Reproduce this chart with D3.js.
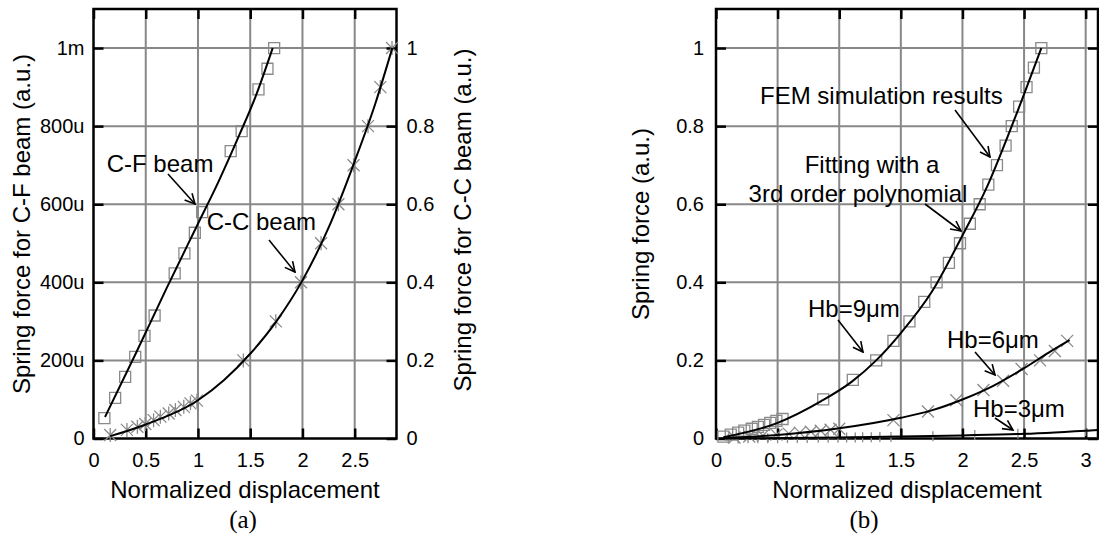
<!DOCTYPE html>
<html>
<head>
<meta charset="utf-8">
<script src="https://cdn.jsdelivr.net/npm/d3@7"></script>
<style>
  body { margin: 0; background: #fff; }
  svg text { font-family: "Liberation Sans", Arial, sans-serif; fill: #000; }
</style>
</head>
<body>
<div id="chart"></div>
<script>
// ---- panel (a) data : C-F beam (left axis, u units) ----
const cfX = [0.104, 0.207, 0.303, 0.399, 0.488, 0.585, 0.777, 0.87, 0.97, 1.04, 1.313, 1.418, 1.579, 1.665, 1.729];
const cfY = [52, 104, 158, 209, 263, 315, 423, 474, 527, 580, 736, 787, 894, 947, 1000];
const cfFitX = [0.11, 0.4, 0.7, 1.0, 1.2, 1.4, 1.55, 1.715];
const cfFitY = [55, 215, 385, 550, 660, 780, 875, 1000];

// C-C beam (right axis)
const ccX = [0.16, 0.32, 0.42, 0.495, 0.575, 0.64, 0.72, 0.784, 0.864, 0.928, 0.99, 1.434, 1.745, 1.986, 2.178, 2.344, 2.489, 2.627, 2.745, 2.857];
const ccY = [0.009, 0.022, 0.03, 0.037, 0.047, 0.056, 0.064, 0.073, 0.081, 0.09, 0.097, 0.2, 0.3, 0.4, 0.5, 0.6, 0.7, 0.8, 0.9, 1.0];
const ccFitX = [0.16, 0.5, 1.0, 1.25, 1.5, 1.75, 2.0, 2.25, 2.5, 2.7, 2.86];
const ccFitY = [0.006, 0.036, 0.098, 0.15, 0.217, 0.3, 0.405, 0.54, 0.71, 0.86, 1.0];

const xTicksA = [0, 0.5, 1, 1.5, 2, 2.5];
const yTicksA = [0, 200, 400, 600, 800, 1000];
const yLabelsA = ["0", "200u", "400u", "600u", "800u", "1m"];
const yTicksA2 = [0, 0.2, 0.4, 0.6, 0.8, 1];

// ---- panel (b) data ----
const hb9X = [0.06, 0.12, 0.18, 0.23, 0.29, 0.34, 0.39, 0.44, 0.49, 0.54, 0.87, 1.11, 1.30, 1.44, 1.57, 1.69, 1.79, 1.89, 1.98, 2.06, 2.14, 2.21, 2.28, 2.35, 2.40, 2.46, 2.52, 2.58, 2.64];
const hb9Y = [0.005, 0.01, 0.015, 0.02, 0.025, 0.03, 0.035, 0.04, 0.045, 0.05, 0.1, 0.15, 0.2, 0.25, 0.3, 0.35, 0.4, 0.45, 0.5, 0.55, 0.6, 0.65, 0.7, 0.75, 0.8, 0.85, 0.9, 0.95, 1.0];
const hb9FitX = [0.06, 0.5, 0.85, 1.1, 1.3, 1.5, 1.75, 2.0, 2.2, 2.4, 2.64];
const hb9FitY = [0.003, 0.04, 0.095, 0.145, 0.2, 0.27, 0.375, 0.52, 0.645, 0.8, 1.0];

const hb6X = [0.15, 0.27, 0.38, 0.49, 0.59, 0.68, 0.77, 0.85, 0.93, 1.0, 1.44, 1.72, 1.95, 2.17, 2.33, 2.48, 2.63, 2.75, 2.85];
const hb6Y = [0.0025, 0.005, 0.0075, 0.01, 0.0125, 0.015, 0.0175, 0.02, 0.0225, 0.025, 0.047, 0.069, 0.098, 0.124, 0.148, 0.178, 0.2, 0.224, 0.25];
const hb6FitX = [0.06, 0.5, 1.0, 1.5, 1.75, 2.0, 2.25, 2.5, 2.7, 2.87];
const hb6FitY = [0.001, 0.009, 0.026, 0.053, 0.072, 0.1, 0.135, 0.18, 0.22, 0.252];

const hb3X = [0.1, 0.18, 0.26, 0.34, 0.42, 0.5, 0.58, 0.66, 0.74, 0.83, 0.91, 0.99, 1.06, 1.13, 1.19, 1.26, 1.33, 1.42, 1.76, 2.1, 2.45, 3.0];
const hb3Y = [0.0002, 0.0003, 0.0005, 0.0006, 0.0007, 0.0009, 0.001, 0.0012, 0.0015, 0.0017, 0.0019, 0.0022, 0.0025, 0.0027, 0.003, 0.0033, 0.0036, 0.004, 0.0059, 0.0087, 0.012, 0.0195];
const hb3FitX = [0.05, 1.0, 1.5, 2.0, 2.5, 3.1];
const hb3FitY = [0, 0.0025, 0.005, 0.008, 0.012, 0.022];

const xTicksB = [0, 0.5, 1, 1.5, 2, 2.5, 3];
const yTicksB = [0, 0.2, 0.4, 0.6, 0.8, 1];

const zip = (xs, ys) => xs.map((x, i) => [x, ys[i]]);

const svg = d3.select('#chart').append('svg')
  .attr('width', 1099).attr('height', 542);

svg.append('defs').append('marker')
  .attr('id', 'arrow')
  .attr('viewBox', '0 0 12 12')
  .attr('refX', 11).attr('refY', 6)
  .attr('markerWidth', 12).attr('markerHeight', 12)
  .attr('markerUnits', 'userSpaceOnUse')
  .attr('orient', 'auto')
  .append('path')
  .attr('d', 'M1,1 L11,6 L1,11')
  .attr('fill', 'none').attr('stroke', '#000').attr('stroke-width', 1.6);

const plotTop = 9, plotBottom = 438.5;

const xA = d3.scaleLinear().domain([0, 2.9]).range([93.5, 396.5]);
const yA = d3.scaleLinear().domain([0, 1100]).range([plotBottom, plotTop]);
const yA2 = d3.scaleLinear().domain([0, 1.1]).range([plotBottom, plotTop]);
const xB = d3.scaleLinear().domain([0, 3.1]).range([716, 1098]);
const yB = d3.scaleLinear().domain([0, 1.1]).range([plotBottom, plotTop]);

const symbols = {
  square: 'M-5.5,-5.5h11v11h-11z',
  cross: 'M-6,-6L6,6M-6,6L6,-6',
  star: 'M-6,-6L6,6M-6,6L6,-6M0,-7V7',
  plus: 'M-5,0H5M0,-5V5'
};

function styleAxis(g) {
  g.select('.domain').remove();
  g.attr('font-size', 20).attr('font-family', '"Liberation Sans", Arial, sans-serif');
  g.selectAll('line').attr('stroke', '#000').attr('stroke-width', 2.5);
}

function panel(x, y, xTicks, yTicks) {
  const g = svg.append('g');
  const [x0, x1] = x.range();
  // grid
  g.append('g').selectAll('line').data(xTicks.slice(1)).join('line')
    .attr('x1', d => x(d)).attr('x2', d => x(d))
    .attr('y1', plotTop).attr('y2', plotBottom)
    .attr('stroke', '#888').attr('stroke-width', 2);
  g.append('g').selectAll('line').data(yTicks.slice(1)).join('line')
    .attr('x1', x0).attr('x2', x1)
    .attr('y1', d => y(d)).attr('y2', d => y(d))
    .attr('stroke', '#888').attr('stroke-width', 2);
  g.append('rect')
    .attr('x', x0).attr('y', plotTop)
    .attr('width', x1 - x0).attr('height', plotBottom - plotTop)
    .attr('fill', 'none').attr('stroke', '#000').attr('stroke-width', 2.5);
  g.append('g').attr('transform', `translate(0,${plotBottom})`)
    .call(d3.axisBottom(x).tickValues(xTicks).tickSize(-10).tickPadding(14).tickFormat(d3.format('~g')))
    .call(styleAxis);
  g.append('g').attr('transform', `translate(0,${plotTop})`)
    .call(d3.axisTop(x).tickValues(xTicks).tickSize(-10).tickFormat(''))
    .call(styleAxis);
  return g;
}

function series(g, x, y, pts, sym) {
  g.append('g').selectAll('path').data(pts).join('path')
    .attr('transform', d => `translate(${x(d[0])},${y(d[1])})`)
    .attr('d', symbols[sym])
    .attr('fill', 'none').attr('stroke', '#8a8a8a').attr('stroke-width', 1.3);
}

function fit(g, x, y, pts) {
  const line = d3.line().x(d => x(d[0])).y(d => y(d[1])).curve(d3.curveMonotoneX);
  g.append('path').datum(pts).attr('d', line)
    .attr('fill', 'none').attr('stroke', '#000').attr('stroke-width', 2);
}

function note(g, txt, tx, ty, anchor, arrow) {
  g.append('text').attr('x', tx).attr('y', ty).attr('text-anchor', anchor)
    .attr('font-size', 24).text(txt);
  if (arrow) {
    g.append('line')
      .attr('x1', arrow[0]).attr('y1', arrow[1]).attr('x2', arrow[2]).attr('y2', arrow[3])
      .attr('stroke', '#000').attr('stroke-width', 1.6).attr('marker-end', 'url(#arrow)');
  }
}

function title(txt, tx, ty, rot) {
  svg.append('text')
    .attr('transform', `translate(${tx},${ty})` + (rot ? ' rotate(-90)' : ''))
    .attr('text-anchor', 'middle').attr('font-size', 24).text(txt);
}

// ---------- panel (a) ----------
const gA = panel(xA, yA, xTicksA, yTicksA);
gA.append('g').attr('transform', 'translate(93.5,0)')
  .call(d3.axisLeft(yA).tickValues(yTicksA).tickSize(-10).tickPadding(9).tickFormat((d, i) => yLabelsA[i]))
  .call(styleAxis);
gA.append('g').attr('transform', 'translate(396.5,0)')
  .call(d3.axisRight(yA2).tickValues(yTicksA2).tickSize(-10).tickPadding(10).tickFormat(d3.format('~g')))
  .call(styleAxis);

series(gA, xA, yA, zip(cfX, cfY), 'square');
series(gA, xA, yA2, zip(ccX, ccY), 'star');
fit(gA, xA, yA, zip(cfFitX, cfFitY));
fit(gA, xA, yA2, zip(ccFitX, ccFitY));

note(gA, 'C-F beam', 106.7, 172, 'start', [168, 174, 195, 204]);
note(gA, 'C-C beam', 206.7, 230, 'start', [269, 240, 295, 272]);

title('Spring force for C-F beam (a.u.)', 30, 224, true);
title('Spring force for C-C beam (a.u.)', 471, 220, true);
title('Normalized displacement', 245, 498, false);
svg.append('text').attr('x', 243).attr('y', 528).attr('text-anchor', 'middle')
  .attr('font-size', 25).style('font-family', '"Liberation Serif", "Times New Roman", serif').text('(a)');

// ---------- panel (b) ----------
const gB = panel(xB, yB, xTicksB, yTicksB);
gB.append('g').attr('transform', 'translate(716,0)')
  .call(d3.axisLeft(yB).tickValues(yTicksB).tickSize(-10).tickPadding(12).tickFormat(d3.format('~g')))
  .call(styleAxis);
gB.append('g').attr('transform', 'translate(1098,0)')
  .call(d3.axisRight(yB).tickValues(yTicksB).tickSize(-10).tickFormat(''))
  .call(styleAxis);

series(gB, xB, yB, zip(hb9X, hb9Y), 'square');
series(gB, xB, yB, zip(hb6X, hb6Y), 'cross');
series(gB, xB, yB, zip(hb3X, hb3Y), 'plus');
fit(gB, xB, yB, zip(hb9FitX, hb9FitY));
fit(gB, xB, yB, zip(hb6FitX, hb6FitY));
fit(gB, xB, yB, zip(hb3FitX, hb3FitY));

note(gB, 'FEM simulation results', 760, 104, 'start', [955, 110, 990, 157]);
note(gB, 'Fitting with a', 872, 173, 'middle', null);
note(gB, '3rd order polynomial', 858, 202, 'middle', [925, 204, 961, 231]);
note(gB, 'Hb=9\u03bcm', 808, 317, 'start', [838, 320, 863, 352]);
note(gB, 'Hb=6\u03bcm', 947, 348, 'start', [975, 352, 995, 375]);
note(gB, 'Hb=3\u03bcm', 973, 417, 'start', [995, 418, 1013, 430]);

title('Spring force (a.u.)', 649, 224, true);
title('Normalized displacement', 907, 498, false);
svg.append('text').attr('x', 864).attr('y', 528).attr('text-anchor', 'middle')
  .attr('font-size', 25).style('font-family', '"Liberation Serif", "Times New Roman", serif').text('(b)');
</script>
</body>
</html>
